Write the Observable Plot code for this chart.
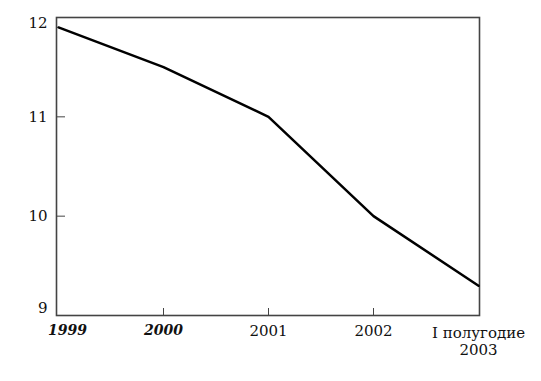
<!DOCTYPE html>
<html><head><meta charset="utf-8">
<script src="https://cdn.jsdelivr.net/npm/d3@7"></script>
<script src="https://cdn.jsdelivr.net/npm/@observablehq/plot@0.6"></script>
<style>body{margin:0;background:#fff}</style>
</head><body><div id="chart"></div>
<script>
const periods = ["1999", "2000", "2001", "2002", "I полугодие\n2003"];
const values = [11.9, 11.5, 11.0, 10.0, 9.3];
const yTicks = [9, 10, 11, 12];
const data = periods.map((p, i) => ({period: p, value: values[i]}));
const font = "DejaVu Serif";
const fmt = (d) => String(d);
const chart = Plot.plot({
  width: 541, height: 381,
  marginLeft: 56, marginRight: 62, marginTop: 17, marginBottom: 66,
  style: {fontFamily: font, fontSize: "15px", color: "#111", background: "#fff"},
  x: {type: "point", domain: periods, padding: 0, axis: null},
  y: {domain: [9, 12], axis: null},
  marks: [
    Plot.frame({stroke: "#444", strokeWidth: 1.6}),
    Plot.axisY(yTicks.slice(1, 3), {tickSize: -9, tickPadding: 18, stroke: "#444", fontSize: 15, label: null, tickFormat: fmt}),
    Plot.axisY([yTicks[3]], {tickSize: 0, tickPadding: 9, dy: 6, fontSize: 15, label: null, tickFormat: fmt}),
    Plot.axisY([yTicks[0]], {tickSize: 0, tickPadding: 9, dy: -7, fontSize: 15, label: null, tickFormat: fmt}),
    Plot.axisX([periods[1]], {anchor: "bottom", tickSize: -7, tickPadding: 17, stroke: "#444", fontSize: 14, fontStyle: "italic", fontWeight: "bold", label: null}),
    Plot.axisX([periods[2], periods[3]], {anchor: "bottom", tickSize: -7, tickPadding: 17, stroke: "#444", fontSize: 15, label: null}),
    Plot.axisX([periods[0]], {anchor: "bottom", tickSize: 0, tickPadding: 10, dx: 9, fontSize: 14, fontStyle: "italic", fontWeight: "bold", label: null}),
    Plot.axisX([periods[4]], {anchor: "bottom", tickSize: 0, tickPadding: 10, fontSize: 15, lineHeight: 1.15, label: null}),
    Plot.lineY(data, {x: "period", y: "value", stroke: "#000", strokeWidth: 2.5})
  ]
});
document.getElementById("chart").append(chart);
</script>
</body></html>
